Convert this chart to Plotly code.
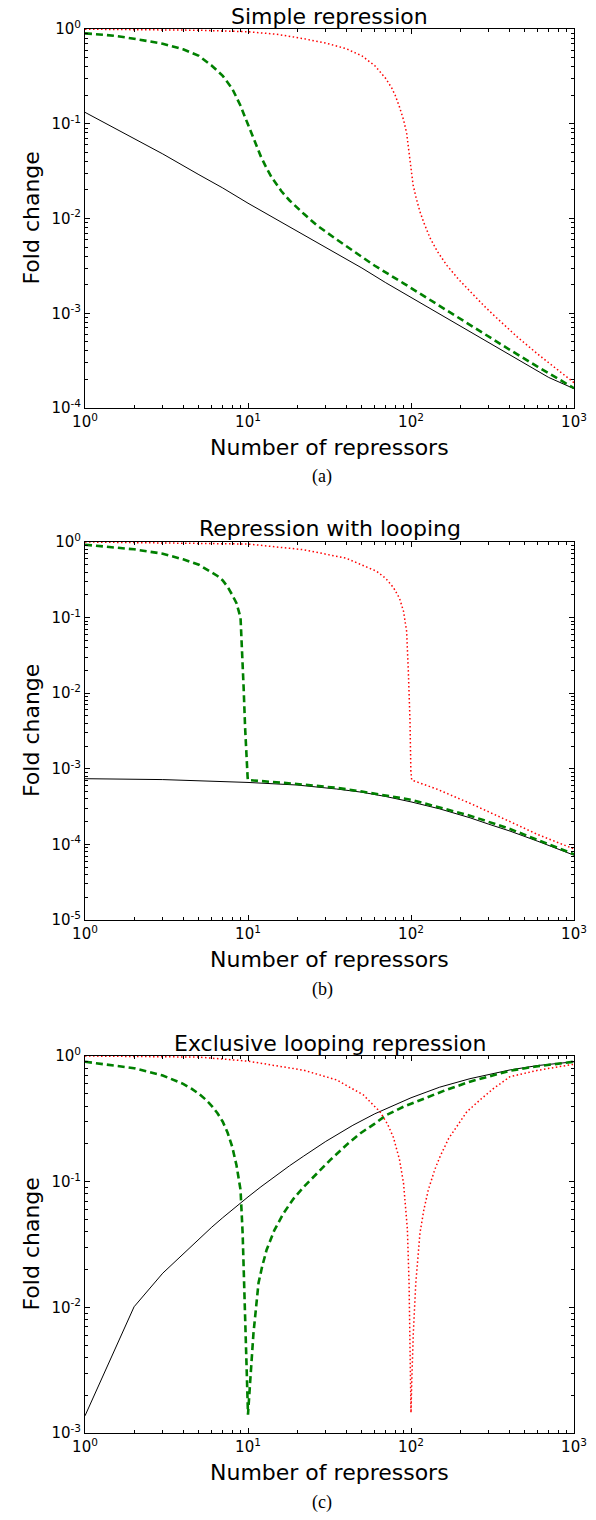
import plotly.graph_objects as go

W, H = 596, 1520

# ---------------- data ----------------
titles = ["Simple repression", "Repression with looping", "Exclusive looping repression"]
captions = ["(a)", "(b)", "(c)"]
x_title = "Number of repressors"
y_title = "Fold change"

x_tick_vals = [1, 10, 100, 1000]
x_tick_text = ["10<sup>0</sup>", "10<sup>1</sup>", "10<sup>2</sup>", "10<sup>3</sup>"]

# Panel (a) simple repression
xa_black = [1, 2, 3, 5, 7, 10, 20, 30, 50, 70, 100, 200, 300, 500, 700, 1000]
ya_black = [0.132, 0.070, 0.048, 0.029, 0.021, 0.0145, 0.0073, 0.0049, 0.0030, 0.0021,
            0.00147, 7.4e-4, 4.9e-4, 2.95e-4, 2.1e-4, 1.6e-4]
xa_green = [1, 1.5, 2, 3, 4, 5, 6, 7, 8, 9, 10, 11, 12, 13, 14, 16, 18, 22, 26.4, 35,
            44.3, 60, 90, 130, 182, 250, 405, 600, 1000]
ya_green = [0.90, 0.85, 0.79, 0.70, 0.61, 0.52, 0.41, 0.32, 0.235, 0.155, 0.098, 0.066,
            0.045, 0.034, 0.027, 0.0195, 0.0155, 0.0112, 0.0085, 0.0060, 0.0045, 0.00317,
            0.00207, 0.00139, 9.6e-4, 6.8e-4, 4.1e-4, 2.72e-4, 1.62e-4]
xa_red = [1, 3, 5, 10, 15, 22, 30, 40, 50, 60, 70, 76, 80, 85, 90, 94, 98.6, 103, 108,
          113.5, 120, 131, 145, 166, 195, 230, 280, 336, 450, 600, 800, 1000]
ya_red = [0.995, 0.985, 0.97, 0.935, 0.88, 0.79, 0.71, 0.62, 0.52, 0.41, 0.30, 0.24,
          0.20, 0.15, 0.11, 0.08, 0.043, 0.0226, 0.016, 0.0118, 0.0090, 0.0062, 0.0045,
          0.0032, 0.0023, 0.0017, 0.0012, 8.9e-4, 5.6e-4, 3.7e-4, 2.5e-4, 1.85e-4]

# Panel (b) repression with looping
xb_black = [1, 3, 10, 20, 35, 50, 70, 100, 150, 230, 300, 405, 600, 800, 1000]
yb_black = [7.4e-4, 7.2e-4, 6.6e-4, 6.1e-4, 5.4e-4, 4.9e-4, 4.3e-4, 3.65e-4, 2.95e-4,
            2.25e-4, 1.85e-4, 1.5e-4, 1.1e-4, 8.6e-5, 7.2e-5]
xb_green = [1, 2, 3, 4, 5, 6, 6.5, 7, 7.5, 8, 8.5, 9, 9.2, 9.4, 9.6, 9.8, 9.95, 10, 13.6,
            20, 35, 50, 100, 150, 230, 405, 600, 1000]
yb_green = [0.92, 0.80, 0.70, 0.59, 0.50, 0.40, 0.355, 0.31, 0.255, 0.20, 0.155, 0.10,
            0.04, 0.012, 0.0035, 0.0011, 7.6e-4, 7.1e-4, 6.8e-4, 6.3e-4, 5.6e-4, 5.0e-4,
            3.9e-4, 3.1e-4, 2.4e-4, 1.6e-4, 1.15e-4, 7.4e-5]
xb_red = [1, 5, 10, 22, 40, 61.5, 70, 78, 85, 90, 94, 96.3, 98.6, 99.8, 101, 143.6, 230,
          405, 600, 1000]
yb_red = [1.0, 0.97, 0.94, 0.79, 0.61, 0.41, 0.33, 0.25, 0.18, 0.121, 0.066, 0.0195,
          0.0043, 9.3e-4, 7.1e-4, 5.4e-4, 3.5e-4, 2.0e-4, 1.35e-4, 8.7e-5]

# Panel (c) exclusive looping repression
xc_black = [1, 2, 3, 4, 5, 6, 7, 8, 9, 10, 12, 15, 18, 22, 30, 44, 60, 100, 150, 230,
            405, 600, 1000]
yc_black = [1.37e-3, 0.0101, 0.0187, 0.0265, 0.0351, 0.0435, 0.0517, 0.0598, 0.0678,
            0.0756, 0.091, 0.113, 0.134, 0.16, 0.209, 0.281, 0.347, 0.465, 0.565, 0.66,
            0.775, 0.84, 0.90]
xc_green = [1, 2, 3, 4, 4.5, 5, 5.5, 6, 6.5, 7, 7.5, 8, 8.5, 9, 9.27, 9.45, 9.68, 9.9,
            10, 10.3, 10.8, 11.6, 12.2, 13, 14.5, 16.5, 19, 22, 27, 32, 40, 49, 60, 71,
            90, 114, 160, 230, 300, 405, 600, 1000]
yc_green = [0.90, 0.80, 0.70, 0.60, 0.55, 0.50, 0.45, 0.40, 0.35, 0.30, 0.245, 0.19,
            0.135, 0.086, 0.039, 0.0156, 0.0062, 0.0025, 0.0014, 0.0025, 0.0062, 0.0156,
            0.021, 0.0286, 0.041, 0.056, 0.073, 0.091, 0.12, 0.149, 0.195, 0.243, 0.29,
            0.34, 0.395, 0.447, 0.53, 0.625, 0.69, 0.764, 0.83, 0.90]
xc_red = [1, 5, 10, 22, 35, 51, 64.5, 72, 78, 85, 90, 95, 97.3, 98.6, 99.5, 100, 101,
          103.3, 107, 113.5, 120, 127.7, 140, 150.6, 170, 190.6, 220, 265, 320, 405, 600,
          1000]
yc_red = [1.0, 0.98, 0.91, 0.77, 0.645, 0.49, 0.36, 0.285, 0.225, 0.15, 0.097, 0.042,
          0.0156, 0.0062, 0.0025, 0.00145, 0.0025, 0.0062, 0.0156, 0.039, 0.06, 0.086,
          0.125, 0.158, 0.22, 0.274, 0.36, 0.447, 0.55, 0.684, 0.77, 0.86]

y_decades = [(-4, 0), (-5, 0), (-3, 0)]

panel_data = [
    (xa_black, ya_black, xa_green, ya_green, xa_red, ya_red),
    (xb_black, yb_black, xb_green, yb_green, xb_red, yb_red),
    (xc_black, yc_black, xc_green, yc_green, xc_red, yc_red),
]

# ---------------- layout geometry (pixels) ----------------
plot_left, plot_right = 85, 574
plot_tops = [29, 542, 1056]
plot_bottoms = [408, 920, 1433]

FONT = "DejaVu Sans"


def px(x):
    return x / W


def py(y):
    return 1 - y / H


fig = go.Figure()

for i, (xk, yk, xg, yg, xr, yr) in enumerate(panel_data):
    sfx = "" if i == 0 else str(i + 1)
    xref, yref = "x" + sfx, "y" + sfx
    fig.add_trace(go.Scatter(x=xk, y=yk, mode="lines", xaxis=xref, yaxis=yref,
                             line=dict(color="black", width=1), showlegend=False))
    fig.add_trace(go.Scatter(x=xg, y=yg, mode="lines", xaxis=xref, yaxis=yref,
                             line=dict(color="#008000", width=2.6, dash="7px,4px"),
                             showlegend=False))
    fig.add_trace(go.Scatter(x=xr, y=yr, mode="lines", xaxis=xref, yaxis=yref,
                             line=dict(color="#ff0000", width=1.5, dash="1.5px,2.5px"),
                             showlegend=False))

    lo, hi = y_decades[i]
    y_tick_vals = [10.0 ** e for e in range(lo, hi + 1)]
    y_tick_text = ["10<sup>%d</sup>" % e for e in range(lo, hi + 1)]
    y_minor = [k * 10.0 ** e for e in range(lo, hi) for k in range(2, 10)]
    x_minor = [k * 10.0 ** e for e in range(0, 3) for k in range(2, 10)]

    common = dict(showline=True, linecolor="black", linewidth=1, mirror="allticks",
                  ticks="inside", ticklen=5, tickwidth=1, tickcolor="black",
                  showgrid=False, zeroline=False, automargin=False,
                  tickfont=dict(family=FONT, size=15, color="black"))

    fig.layout["xaxis" + sfx] = dict(
        type="log", range=[0, 3], anchor=yref,
        domain=[px(plot_left), px(plot_right)],
        tickmode="array", tickvals=x_tick_vals, ticktext=x_tick_text,
        minor=dict(tickmode="array", tickvals=x_minor, ticks="inside", ticklen=3,
                   tickwidth=1, tickcolor="black", showgrid=False),
        **common)
    fig.layout["yaxis" + sfx] = dict(
        type="log", range=[lo, hi], anchor=xref,
        domain=[py(plot_bottoms[i]), py(plot_tops[i])],
        tickmode="array", tickvals=y_tick_vals, ticktext=y_tick_text,
        minor=dict(tickmode="array", tickvals=y_minor, ticks="inside", ticklen=3,
                   tickwidth=1, tickcolor="black", showgrid=False),
        **common)

    cx = (plot_left + plot_right) / 2
    # panel title
    fig.add_annotation(x=px(cx), y=py(plot_tops[i] - 13), xref="paper", yref="paper",
                       text=titles[i], showarrow=False, xanchor="center", yanchor="middle",
                       font=dict(family=FONT, size=22, color="black"))
    # x axis title
    fig.add_annotation(x=px(cx), y=py(plot_bottoms[i] + 39), xref="paper", yref="paper",
                       text=x_title, showarrow=False, xanchor="center", yanchor="middle",
                       font=dict(family=FONT, size=22, color="black"))
    # y axis title
    fig.add_annotation(x=px(31), y=py((plot_tops[i] + plot_bottoms[i]) / 2),
                       xref="paper", yref="paper", text=y_title, showarrow=False,
                       textangle=-90, xanchor="center", yanchor="middle",
                       font=dict(family=FONT, size=22, color="black"))
    # caption
    fig.add_annotation(x=px(322), y=py(plot_bottoms[i] + 69), xref="paper", yref="paper",
                       text=captions[i], showarrow=False, xanchor="center",
                       yanchor="middle",
                       font=dict(family="Liberation Serif", size=18, color="black"))

fig.update_layout(width=W, height=H, margin=dict(l=0, r=0, t=0, b=0),
                  paper_bgcolor="white", plot_bgcolor="white", showlegend=False)

fig.write_html("out.html")
